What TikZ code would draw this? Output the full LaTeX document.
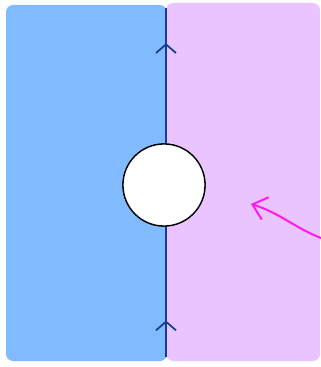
\documentclass[tikz,border=0pt]{standalone}
\usetikzlibrary{arrows.meta,decorations.markings}
\definecolor{leftblue}{HTML}{80BBFF}
\definecolor{rightpink}{HTML}{E9C4FF}
\definecolor{cutline}{HTML}{163D8E}
\definecolor{hotpink}{HTML}{FF19F0}
\tikzset{
  region/.style={rounded corners=6pt, draw=none},
  cut/.style={line width=2pt, color=cutline},
  upmark/.style={postaction={decorate}, decoration={markings,
      mark=at position #1 with {\arrow[line width=1.5pt]{Straight Barb[length=2.6mm,width=6mm]}}}},
  hole/.style={circle, draw=black, fill=white, line width=1.1pt, minimum size=2.46cm, inner sep=0pt},
  pointer/.style={-{Straight Barb[length=4mm,width=7mm]}, line width=1.7pt, color=hotpink}}

\begin{document}
\begin{tikzpicture}[x=0.03cm, y=-0.03cm]
    \useasboundingbox (0,0) rectangle (321,367);
    % the two half planes
    \fill[region, leftblue] (6,5) rectangle (167,361);
    \fill[region, rightpink] (166,3) rectangle (320,361);
    % the cut with the removed disc
    \node[hole] (disc) at (164,185) {};
    \coordinate (top) at (166,8);
    \coordinate (bot) at (166,357);
    \draw[cut, upmark=0.74] (disc.north -| top) -- (top);
    \draw[cut, upmark=0.28] (bot) -- (disc.south -| bot);
    \node[hole] at (disc) {};
    % the pointer from the right
    \coordinate (tail) at (321,238);
    \coordinate (tip) at (251,204);
    \draw[pointer] (tail) .. controls (295,228) and (280,213) .. (tip);
\end{tikzpicture}
\end{document}
